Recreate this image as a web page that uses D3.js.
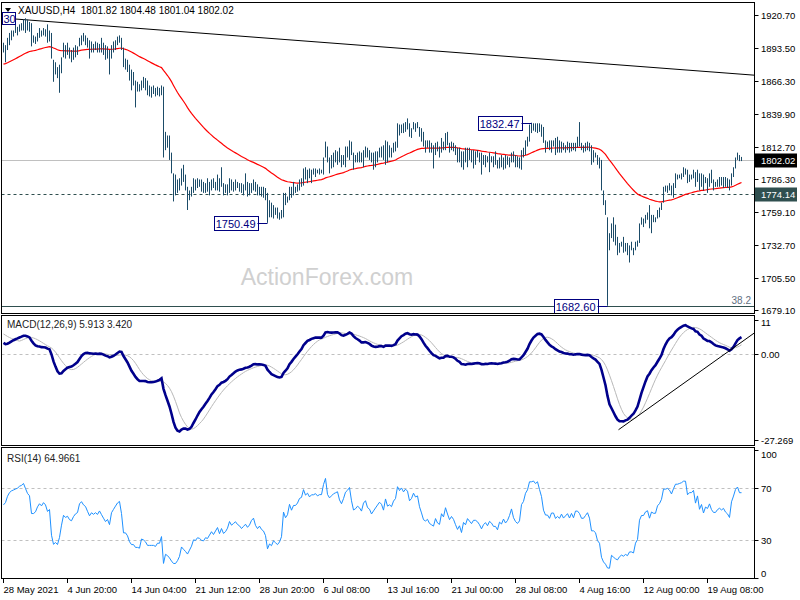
<!DOCTYPE html>
<html><head><meta charset="utf-8">
<script src="https://cdn.jsdelivr.net/npm/d3@7"></script>
<style>body{margin:0;background:#fff}svg{display:block;font-family:"Liberation Sans",Arial,sans-serif}</style>
</head><body><svg id="c" width="800" height="600"></svg>
<script>
// ---------- DATA (XAUUSD H4) ----------
const highs=[
1898,1896,1902,1906,1908,1908,1913,1911,1913,1914,
1917,1918,1917,1915,1914,1904,1903,1906,1910,1908,
1910,1909,1913,1908,1906,1884,1882,1878,1880,1886,
1898,1896,1898,1894,1892,1894,1896,1895,1902,1904,
1906,1904,1902,1900,1899,1897,1899,1898,1897,1902,
1898,1896,1895,1892,1896,1899,1900,1903,1904,1902,
1894,1885,1884,1880,1876,1874,1867,1866,1864,1867,
1870,1869,1867,1863,1862,1863,1861,1862,1861,1863,
1862,1825,1822,1822,1808,1791,1790,1786,1787,1795,
1798,1790,1780,1777,1780,1787,1786,1787,1786,1786,
1784,1783,1787,1784,1786,1787,1784,1790,1787,1796,
1783,1782,1782,1787,1786,1784,1786,1784,1783,1783,
1782,1791,1784,1783,1783,1786,1784,1782,1780,1780,
1780,1779,1775,1769,1767,1765,1763,1763,1759,1761,
1775,1775,1772,1780,1780,1784,1780,1782,1786,1787,
1795,1796,1794,1795,1794,1795,1795,1794,1795,1794,
1804,1817,1813,1804,1806,1808,1810,1809,1812,1806,
1806,1813,1813,1818,1817,1808,1806,1808,1809,1808,
1810,1813,1812,1810,1808,1808,1809,1809,1812,1813,
1814,1818,1817,1814,1812,1816,1817,1832,1831,1831,
1832,1833,1836,1832,1828,1833,1832,1833,1829,1828,
1825,1818,1818,1818,1816,1814,1816,1817,1813,1820,
1817,1824,1825,1816,1817,1816,1814,1812,1812,1809,
1809,1812,1812,1812,1810,1810,1809,1810,1808,1808,
1806,1806,1805,1808,1805,1805,1809,1802,1804,1806,
1804,1806,1805,1804,1808,1809,1806,1805,1804,1810,
1812,1818,1821,1831,1832.47,1832,1832,1832,1832,1831,
1829,1818,1817,1818,1818,1818,1820,1821,1818,1817,
1816,1814,1817,1816,1816,1816,1816,1821,1833,1816,
1814,1816,1817,1816,1814,1810,1808,1806,1804,1802,
1777,1769,1755,1742,1750,1755,1749,1739,1734,1735,
1739,1734,1734,1732,1735,1730,1735,1736,1750,1755,
1754,1757,1759,1765,1757,1757,1755,1761,1763,1767,
1780,1781,1781,1783,1781,1783,1791,1790,1790,1791,
1796,1795,1794,1790,1790,1794,1792,1794,1791,1791,
1790,1788,1787,1791,1794,1786,1784,1786,1788,1788,
1788,1788,1787,1786,1791,1796,1804,1808,1806,1804.48];
const lows=[
1890,1882,1892,1896,1900,1903,1906,1904,1907,1908,
1908,1906,1908,1907,1895,1898,1897,1899,1902,1903,
1904,1903,1898,1899,1885,1866,1872,1869,1857,1873,
1886,1885,1888,1885,1882,1884,1886,1888,1895,1896,
1899,1896,1894,1885,1890,1890,1892,1890,1890,1890,
1888,1884,1885,1872,1885,1890,1892,1896,1898,1892,
1878,1876,1874,1867,1859,1863,1845,1858,1858,1859,
1861,1859,1855,1854,1853,1856,1854,1855,1854,1855,
1804,1810,1812,1802,1791,1768,1773,1775,1777,1781,
1784,1777,1761,1769,1772,1775,1777,1779,1780,1776,
1775,1775,1776,1773,1777,1779,1777,1777,1776,1780,
1773,1775,1773,1775,1777,1776,1777,1779,1776,1775,
1773,1777,1772,1773,1775,1777,1776,1773,1773,1772,
1771,1769,1750.49,1755,1755,1754,1757,1754,1753,1754,
1755,1765,1767,1769,1771,1773,1775,1776,1777,1780,
1781,1786,1783,1787,1783,1790,1788,1791,1790,1791,
1790,1804,1800,1791,1795,1796,1800,1798,1800,1796,
1798,1796,1804,1802,1806,1794,1800,1800,1800,1800,
1796,1804,1804,1802,1800,1794,1796,1800,1804,1804,
1802,1798,1800,1804,1804,1808,1809,1812,1822,1824,
1824,1825,1827,1821,1820,1827,1825,1828,1821,1817,
1813,1808,1812,1808,1808,1795,1806,1809,1804,1808,
1810,1810,1814,1808,1810,1809,1806,1800,1800,1796,
1794,1800,1796,1802,1800,1795,1798,1804,1800,1790,
1798,1796,1800,1792,1800,1796,1798,1795,1795,1796,
1794,1795,1798,1796,1800,1800,1796,1796,1795,1794,
1804,1806,1813,1817,1824,1826,1825,1824,1825,1821,
1816,1808,1812,1810,1808,1813,1806,1808,1808,1808,
1810,1808,1810,1808,1809,1810,1809,1812,1813,1810,
1808,1809,1810,1809,1798,1800,1804,1798,1795,1777,
1765,1757,1682.60,1728,1738,1735,1732,1724,1726,1731,
1726,1727,1724,1718,1728,1724,1728,1731,1734,1749,
1747,1750,1753,1746,1742,1751,1751,1754,1755,1761,
1767,1776,1775,1777,1773,1771,1779,1786,1787,1786,
1788,1790,1783,1784,1786,1787,1780,1784,1777,1780,
1777,1783,1775,1780,1783,1777,1780,1780,1780,1781,
1779,1780,1779,1777,1781,1788,1795,1802,1801,1801.04];
const closes=[
1892,1894,1900,1904,1906,1907,1908,1909,1911,1912,
1914,1912,1910,1909,1900,1900,1901,1904,1906,1905,
1907,1906,1903,1904,1886,1874,1875,1872,1876,1884,
1892,1890,1891,1888,1887,1890,1892,1893,1900,1902,
1900,1899,1896,1893,1895,1894,1895,1894,1896,1894,
1892,1890,1891,1888,1894,1896,1898,1900,1901,1895,
1880,1880,1877,1870,1866,1866,1862,1862,1861,1865,
1864,1862,1858,1858,1858,1858,1857,1858,1858,1860,
1812,1818,1814,1806,1793,1780,1780,1782,1785,1792,
1786,1780,1772,1775,1778,1783,1782,1784,1783,1780,
1779,1781,1780,1782,1784,1781,1783,1785,1779,1782,
1777,1778,1780,1784,1781,1782,1783,1781,1780,1778,
1779,1780,1778,1779,1781,1782,1778,1776,1777,1775,
1774,1771,1758,1760,1758,1760,1758,1756,1757,1759,
1772,1768,1770,1778,1774,1778,1778,1780,1784,1785,
1793,1790,1792,1790,1792,1792,1793,1792,1793,1793,
1802,1810,1802,1800,1802,1804,1805,1806,1802,1800,
1804,1810,1812,1815,1808,1802,1803,1805,1804,1802,
1808,1810,1806,1805,1802,1804,1806,1808,1810,1809,
1806,1814,1810,1811,1810,1814,1816,1828,1826,1829,
1827,1830,1829,1824,1826,1831,1829,1830,1824,1820,
1815,1814,1815,1812,1811,1810,1814,1811,1810,1816,
1814,1820,1816,1812,1814,1812,1808,1804,1806,1800,
1806,1804,1808,1806,1804,1806,1806,1805,1803,1800,
1802,1803,1801,1803,1802,1800,1800,1798,1801,1800,
1802,1800,1801,1803,1806,1802,1800,1799,1800,1808,
1810,1816,1819,1828,1828,1829,1828,1830,1827,1824,
1817,1814,1814,1812,1815,1815,1812,1813,1812,1814,
1812,1813,1814,1812,1814,1812,1815,1815,1814,1812,
1812,1813,1814,1812,1806,1806,1805,1800,1798,1780,
1768,1760,1740,1738,1746,1740,1734,1730,1732,1733,
1730,1731,1728,1730,1730,1728,1733,1735,1748,1752,
1752,1755,1756,1750,1755,1754,1754,1760,1762,1766,
1778,1778,1779,1778,1776,1782,1788,1788,1789,1790,
1792,1792,1786,1788,1788,1790,1784,1790,1782,1786,
1780,1785,1784,1788,1784,1782,1782,1784,1785,1784,
1785,1783,1782,1780,1790,1795,1802,1805,1802,1802.02];

const dateLabels=["28 May 2021","4 Jun 20:00","14 Jun 04:00","21 Jun 12:00","28 Jun 20:00","6 Jul 08:00","13 Jul 16:00","21 Jul 00:00","28 Jul 08:00","4 Aug 16:00","12 Aug 00:00","19 Aug 08:00"];
const dateLabelBars=[0,32,64,96,128,160,192,224,256,288,320,352];
const priceTicks=[1920.70,1893.50,1866.30,1839.90,1812.70,1786.30,1759.10,1732.70,1705.50,1679.10];
const macdTicks=[11,0,-27.269];
const macdTickLabels=["11","0.00","-27.269"];
const rsiTicks=[100,70,30,0];
const rsiLevels=[70,30];
const lastPrice=1802.02, supportLevel=1774.14, fibLevel=1682.0;
const annotations=[{i:132,price:1750.49,text:"1750.49"},{i:264,price:1832.47,text:"1832.47"},{i:302,price:1682.60,text:"1682.60"}];
const priceTrend=[{i:6,v:1917.4},{i:375.5,v:1871.4}];
const macdTrend=[{i:307.5,v:-24.0},{i:375.5,v:6.9}];
const headerText="XAUUSD,H4  1801.82 1804.48 1801.04 1802.02";
const macdTitle="MACD(12,26,9) 5.913 3.420";
const rsiTitle="RSI(14) 64.9661";
const maPeriod=55, maSeed=1880;
const macdFast=12, macdSlow=26, macdSignal=9;
const macdSeed={fast:1896.4, slow:1892.0, signal:6.9};
const rsiPeriod=14, rsiSeed={gain:2.0, loss:1.5};

if(highs.length!==370||lows.length!==370||closes.length!==370) throw new Error("len "+highs.length+" "+lows.length+" "+closes.length);

// ---------- INDICATORS ----------
function ema(vals,n,seed){const a=2/(n+1);let e=seed;return vals.map(v=>(e=e+a*(v-e)));}
const ma=ema(closes,maPeriod,maSeed);
const ef=ema(closes,macdFast,macdSeed.fast), es=ema(closes,macdSlow,macdSeed.slow);
const macdMain=closes.map((_,i)=>ef[i]-es[i]);
const padded=Array(macdSignal-1).fill(macdSeed.signal).concat(macdMain);
const macdSig=macdMain.map((_,i)=>d3.mean(padded.slice(i,i+macdSignal)));
let ag=rsiSeed.gain, al=rsiSeed.loss;
const rsi=closes.map((c,i)=>{if(i>0){const ch=c-closes[i-1];ag=(ag*(rsiPeriod-1)+Math.max(ch,0))/rsiPeriod;al=(al*(rsiPeriod-1)+Math.max(-ch,0))/rsiPeriod;}return 100-100/(1+ag/al);});

// ---------- LAYOUT ----------
const svg=d3.select("#c");
const L=1.5,R=754.5;
const panels={main:{t:2.5,b:313.5},macd:{t:315.5,b:445.5},rsi:{t:447.5,b:578.5}};
const x=d3.scaleLinear().domain([0,369]).range([3.5,741.5]);
const y=d3.scaleLinear().domain([1679.10,1920.70]).range([310,15]);
const yM=d3.scaleLinear().domain([-27.269,11]).range([440,320]);
const yR=d3.scaleLinear().domain([0,100]).range([578,450]);
const snap=v=>Math.round(v)+0.5;
const defs=svg.append("defs");
Object.entries(panels).forEach(([k,p])=>{
  defs.append("clipPath").attr("id","clip-"+k).append("rect").attr("x",L).attr("y",p.t).attr("width",R-L).attr("height",p.b-p.t);
});
const gMain=svg.append("g").attr("clip-path","url(#clip-main)");
const gMacd=svg.append("g").attr("clip-path","url(#clip-macd)");
const gRsi=svg.append("g").attr("clip-path","url(#clip-rsi)");

// watermark
gMain.append("text").attr("x",327).attr("y",285).attr("text-anchor","middle").attr("font-size",23).attr("fill","#d0d0d0").text("ActionForex.com");

// horizontal levels
const hline=(g,v,sc,color,dash)=>g.append("line").attr("x1",L).attr("x2",R).attr("y1",snap(sc(v))).attr("y2",snap(sc(v))).attr("stroke",color).attr("stroke-width",1).attr("stroke-dasharray",dash||null);
hline(gMain,lastPrice,y,"#c0c0c0");
hline(gMain,supportLevel,y,"#2f4f4f","3,3");
hline(gMain,fibLevel,y,"#2f4f4f");
gMain.append("text").attr("x",751).attr("y",snap(y(fibLevel))-3).attr("text-anchor","end").attr("font-size",10).attr("fill","#5f6f7f").text("38.2");

// trendline
gMain.append("line").attr("x1",x(priceTrend[0].i)).attr("y1",y(priceTrend[0].v)).attr("x2",x(priceTrend[1].i)).attr("y2",y(priceTrend[1].v)).attr("stroke","#000").attr("stroke-width",1);

// MA
gMain.append("path").datum(ma).attr("fill","none").attr("stroke","#ff0000").attr("stroke-width",1.2)
  .attr("d",d3.line().x((d,i)=>x(i)).y(d=>y(d)));

// bars
gMain.append("g").selectAll("line").data(closes).join("line")
  .attr("x1",(d,i)=>x(i)).attr("x2",(d,i)=>x(i))
  .attr("y1",(d,i)=>y(highs[i])).attr("y2",(d,i)=>y(lows[i]))
  .attr("stroke","#1b4b68").attr("stroke-width",1);

// annotations
annotations.forEach(a=>{
  const bx=x(a.i), cy=snap(y(a.price));
  const g=gMain.append("g");
  const t=g.append("text").attr("font-size",11).attr("fill","#000080").attr("y",cy+4).text(a.text);
  const w=t.node().getComputedTextLength();
  const right=bx-10;
  t.attr("x",right-w-2);
  g.insert("rect","text").attr("x",Math.round(right-w-4)+0.5).attr("y",cy-7).attr("width",Math.round(w+4)).attr("height",14).attr("fill","#fff").attr("stroke","#000080");
  g.append("line").attr("x1",right).attr("x2",bx).attr("y1",cy).attr("y2",cy).attr("stroke","#000080");
});
// clipped top-left label
gMain.append("rect").attr("x",2.5).attr("y",12.5).attr("width",13).attr("height",12).attr("fill","#fff").attr("stroke","#000080");
gMain.append("text").attr("x",3.5).attr("y",22.5).attr("font-size",11).attr("fill","#000080").text("30");

// header
svg.append("path").attr("d","M5,8 L11,8 L8,12 Z").attr("fill","#000");
svg.append("text").attr("x",18).attr("y",14).attr("font-size",10).attr("fill","#000").style("white-space","pre").text(headerText);

// MACD
hline(gMacd,0,yM,"#c0c0c0","3,3");
gMacd.append("path").datum(macdSig).attr("fill","none").attr("stroke","#b8b8b8").attr("stroke-width",1)
  .attr("d",d3.line().x((d,i)=>x(i)).y(d=>yM(d)));
gMacd.append("path").datum(macdMain).attr("fill","none").attr("stroke","#00008b").attr("stroke-width",2.6)
  .attr("d",d3.line().x((d,i)=>x(i)).y(d=>yM(d)));
gMacd.append("line").attr("x1",x(macdTrend[0].i)).attr("y1",yM(macdTrend[0].v)).attr("x2",x(macdTrend[1].i)).attr("y2",yM(macdTrend[1].v)).attr("stroke","#000").attr("stroke-width",1);
svg.append("text").attr("x",7).attr("y",328).attr("font-size",10).attr("fill","#222").text(macdTitle);

// RSI
rsiLevels.forEach(v=>hline(gRsi,v,yR,"#c0c0c0","3,3"));
gRsi.append("path").datum(rsi).attr("fill","none").attr("stroke","#1e90ff").attr("stroke-width",1)
  .attr("d",d3.line().x((d,i)=>x(i)).y(d=>yR(d)));
svg.append("text").attr("x",7).attr("y",462).attr("font-size",10).attr("fill","#222").text(rsiTitle);

// frames
Object.values(panels).forEach(p=>svg.append("rect").attr("x",L).attr("y",p.t).attr("width",R-L).attr("height",p.b-p.t).attr("fill","none").attr("stroke","#000"));

// right axes
function rightAxis(ticks,labels,sc,p){
  ticks.forEach((v,k)=>{
    const yy=snap(sc(v));
    svg.append("line").attr("x1",R).attr("x2",R+4).attr("y1",yy).attr("y2",yy).attr("stroke","#000");
    const ty=Math.max(p.t+7,Math.min(p.b-5,yy));
    svg.append("text").attr("x",761).attr("y",ty).attr("dy","0.35em").attr("font-size",9.5).attr("fill","#000").text(labels[k]);
  });
}
rightAxis(priceTicks,priceTicks.map(d3.format(".2f")),y,{t:panels.main.t,b:panels.main.b+2});
rightAxis(macdTicks,macdTickLabels,yM,panels.macd);
rightAxis(rsiTicks,rsiTicks.map(String),yR,panels.rsi);

// price boxes
[[lastPrice,"#000"],[supportLevel,"#2f4f4f"]].forEach(([v,c])=>{
  const yy=snap(y(v));
  svg.append("rect").attr("x",755).attr("y",yy-7).attr("width",42).attr("height",14).attr("fill",c);
  svg.append("text").attr("x",761).attr("y",yy).attr("dy","0.35em").attr("font-size",9.5).attr("fill","#fff").text(d3.format(".2f")(v));
});

// x axis
dateLabelBars.forEach((b,k)=>{
  const xx=Math.round(x(b))-0.5;
  svg.append("line").attr("x1",xx).attr("x2",xx).attr("y1",578.5).attr("y2",583).attr("stroke","#000");
  svg.append("text").attr("x",xx).attr("y",593).attr("font-size",9.5).attr("fill","#000").text(dateLabels[k]);
});
</script></body></html>
